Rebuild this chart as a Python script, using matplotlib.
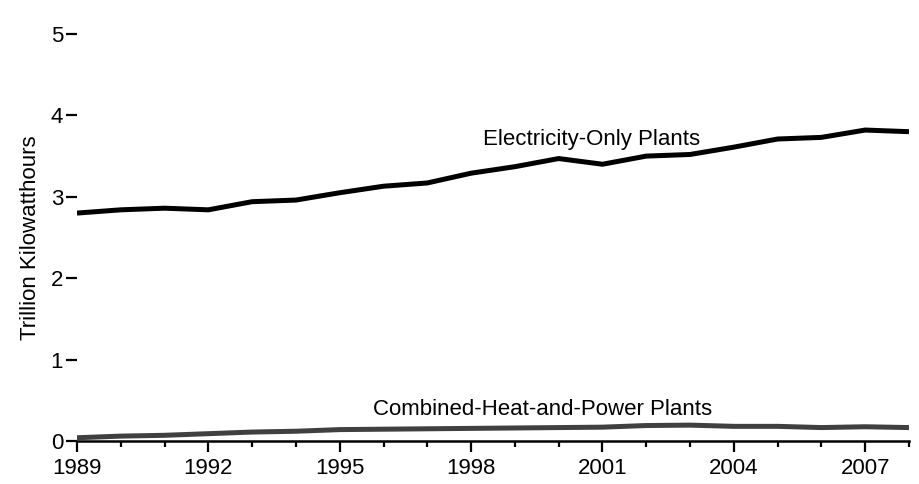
import matplotlib
matplotlib.use("Agg")
import matplotlib.pyplot as plt
from matplotlib.ticker import MultipleLocator

plt.rcParams['font.family'] = ['Liberation Sans', 'DejaVu Sans']

years = list(range(1989, 2009))
electricity_only = [2.80, 2.84, 2.86, 2.84, 2.94, 2.96, 3.05, 3.13, 3.17, 3.29,
                    3.37, 3.47, 3.40, 3.50, 3.52, 3.61, 3.71, 3.73, 3.82, 3.80]
chp = [0.04, 0.06, 0.07, 0.09, 0.11, 0.12, 0.14, 0.145, 0.15, 0.155,
       0.16, 0.165, 0.17, 0.19, 0.195, 0.18, 0.18, 0.165, 0.175, 0.165]
xticks = [1989, 1992, 1995, 1998, 2001, 2004, 2007]
yticks = [0, 1, 2, 3, 4, 5]

fig = plt.figure(figsize=(9.19, 4.84), dpi=100)
ax = fig.add_axes([77/919, 1-441/484, (909-77)/919, (441-34)/484])

ax.plot(years, chp, color='#404040', lw=3.6, solid_capstyle='butt', zorder=3)
ax.plot(years, electricity_only, color='black', lw=3.6, solid_capstyle='butt', zorder=3)

ax.text(1998.27, 3.71, 'Electricity-Only Plants', fontsize=16, ha='left', va='center')
ax.text(1995.76, 0.39, 'Combined-Heat-and-Power Plants', fontsize=16, ha='left', va='center')

ax.set_xlim(1989, 2008)
ax.set_ylim(0, 5)
ax.set_xticks(xticks)
ax.set_xticklabels([str(x) for x in xticks])
ax.xaxis.set_minor_locator(MultipleLocator(1))
ax.set_yticks(yticks)
ax.set_yticklabels([str(y) for y in yticks])

for s in ['top', 'right', 'left']:
    ax.spines[s].set_visible(False)
ax.spines['bottom'].set_linewidth(1.8)
ax.spines['bottom'].set_zorder(4)

ax.tick_params(axis='x', which='major', length=8, width=1.6, labelsize=16, pad=4, direction='out')
ax.tick_params(axis='x', which='minor', length=4.5, width=1.6, direction='out')
ax.tick_params(axis='y', which='major', length=8, width=1.6, labelsize=16, pad=2, direction='out')

ax.set_ylabel('Trillion Kilowatthours', fontsize=16, labelpad=7)

fig.savefig('out.png', dpi=100)
